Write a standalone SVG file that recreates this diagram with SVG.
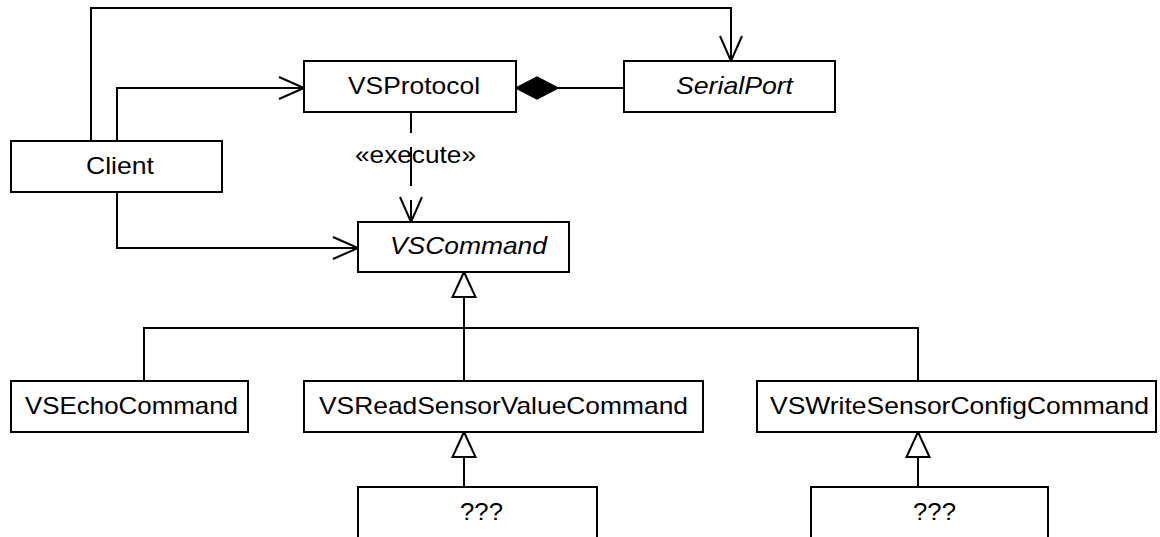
<svg xmlns="http://www.w3.org/2000/svg" width="1160" height="537" viewBox="0 0 1160 537">
  <style>
    .box { fill: #ffffff; stroke: #000000; stroke-width: 2; }
    .lbl { font-family: "Liberation Sans", Arial, Helvetica, sans-serif; font-size: 24px; fill: #000000; }
    .it { font-style: italic; }
    .edge { fill: none; stroke: #000000; stroke-width: 2; }
  </style>
  <defs>
    <!-- open arrowhead for navigable associations / dependencies -->
    <marker id="open" markerUnits="userSpaceOnUse" viewBox="-27 -13 30 26" refX="0" refY="0" markerWidth="30" markerHeight="26" orient="auto" overflow="visible">
      <path d="M-25,-11 L0,0 L-25,11" fill="none" stroke="#000" stroke-width="2"/>
    </marker>
    <!-- hollow triangle for generalization -->
    <marker id="gen" markerUnits="userSpaceOnUse" viewBox="-27 -13 30 26" refX="0" refY="0" markerWidth="30" markerHeight="26" orient="auto" overflow="visible">
      <path d="M0,0 L-25,-11.5 L-25,11.5 Z" fill="#fff" stroke="#000" stroke-width="2"/>
    </marker>
    <!-- filled diamond for composition -->
    <marker id="comp" markerUnits="userSpaceOnUse" viewBox="-44 -13 46 26" refX="0" refY="0" markerWidth="46" markerHeight="26" orient="auto" overflow="visible">
      <path d="M0,0 L-21,-11 L-42,0 L-21,11 Z" fill="#000" stroke="#000" stroke-width="1.5"/>
    </marker>
  </defs>

  <g id="connectors">
    <!-- Client -> SerialPort -->
    <path class="edge" d="M91,141 V8 H731 V61" marker-end="url(#open)"/>
    <!-- Client -> VSProtocol -->
    <path class="edge" d="M117,141 V88 H304" marker-end="url(#open)"/>
    <!-- VSProtocol <>- SerialPort (composition) -->
    <path class="edge" d="M624,88 H516" marker-end="url(#comp)"/>
    <!-- VSProtocol executes VSCommand (dashed dependency) -->
    <path class="edge" d="M411,112 V133 M411,147 V186 M411,200 V222" marker-end="url(#open)"/>
    <text class="lbl" x="355" y="163" textLength="121" lengthAdjust="spacingAndGlyphs">«execute»</text>
    <!-- Client -> VSCommand -->
    <path class="edge" d="M117,192 V248 H358" marker-end="url(#open)"/>
    <!-- command subclasses -> VSCommand -->
    <path class="edge" d="M464,381 V297"/>
    <path class="edge" d="M464,300 V272" marker-end="url(#gen)"/>
    <path class="edge" d="M144,381 V328 H918 V381"/>
    <!-- ??? -> VSReadSensorValueCommand -->
    <path class="edge" d="M464,487 V432" marker-end="url(#gen)"/>
    <!-- ??? -> VSWriteSensorConfigCommand -->
    <path class="edge" d="M918,487 V432" marker-end="url(#gen)"/>
  </g>

  <g id="client">
    <rect class="box" x="11" y="141" width="211" height="51"/>
    <text class="lbl" x="86" y="174" textLength="68" lengthAdjust="spacingAndGlyphs">Client</text>
  </g>
  <g id="vsprotocol">
    <rect class="box" x="304" y="61" width="212" height="51"/>
    <text class="lbl" x="348" y="94" textLength="132" lengthAdjust="spacingAndGlyphs">VSProtocol</text>
  </g>
  <g id="serialport">
    <rect class="box" x="624" y="61" width="211" height="51"/>
    <text class="lbl it" x="676" y="94" textLength="117" lengthAdjust="spacingAndGlyphs">SerialPort</text>
  </g>
  <g id="vscommand">
    <rect class="box" x="358" y="222" width="211" height="50"/>
    <text class="lbl it" x="390" y="254" textLength="157" lengthAdjust="spacingAndGlyphs">VSCommand</text>
  </g>
  <g id="vsechocommand">
    <rect class="box" x="11" y="381" width="237" height="51"/>
    <text class="lbl" x="25" y="414" textLength="213" lengthAdjust="spacingAndGlyphs">VSEchoCommand</text>
  </g>
  <g id="vsreadsensorvaluecommand">
    <rect class="box" x="304" y="381" width="399" height="51"/>
    <text class="lbl" x="319" y="414" textLength="369" lengthAdjust="spacingAndGlyphs">VSReadSensorValueCommand</text>
  </g>
  <g id="vswritesensorconfigcommand">
    <rect class="box" x="757" y="381" width="399" height="51"/>
    <text class="lbl" x="770" y="414" textLength="379" lengthAdjust="spacingAndGlyphs">VSWriteSensorConfigCommand</text>
  </g>
  <g id="read-subclass">
    <rect class="box" x="358" y="487" width="239" height="70"/>
    <text class="lbl" x="460" y="520" textLength="43" lengthAdjust="spacingAndGlyphs">???</text>
  </g>
  <g id="write-subclass">
    <rect class="box" x="811" y="487" width="237" height="70"/>
    <text class="lbl" x="913" y="520" textLength="43" lengthAdjust="spacingAndGlyphs">???</text>
  </g>
</svg>
